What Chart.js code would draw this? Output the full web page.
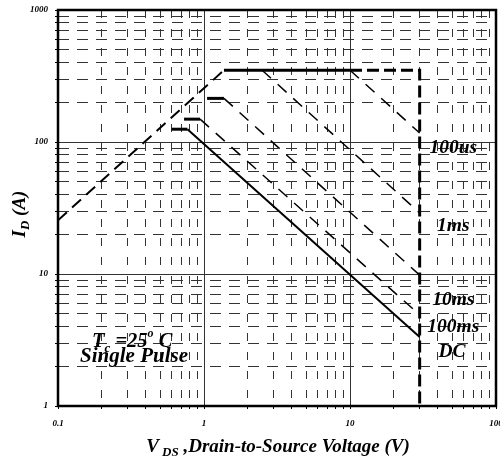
<!DOCTYPE html>
<html>
<head>
<meta charset="utf-8">
<script src="https://cdn.jsdelivr.net/npm/chart.js@4"></script>
<style>
  html, body { margin: 0; padding: 0; background: #fff; overflow: hidden; }
  #wrap { width: 500px; height: 463px; position: relative; }
</style>
</head>
<body>
<div id="wrap"><canvas id="myChart"></canvas></div>
<script>
// axis decades (tick labels)
const xDecades = [0.1, 1, 10, 100];
const yDecades = [1, 10, 100, 1000];
const mantissas = [1, 2, 3, 4, 5, 6, 7, 8, 9];

// SOA curves, VDS (V) / ID (A)
const vRds = [0.1, 1.37];
const iRds = [25.5, 350];
const v100us = [1.37, 10, 30];
const i100us = [350, 350, 117];
const v1ms = [2.5, 30];
const i1ms = [350, 29];
const v10ms = [1.05, 1.37, 30];
const i10ms = [214, 214, 9.8];
const v100ms = [0.73, 0.94, 30];
const i100ms = [149, 149, 4.9];
const vDC = [0.6, 0.77, 30];
const iDC = [125, 125, 3.33];
const vBV = [10, 30, 30];
const iBV = [350, 350, 0.98];

const curveLabels = ['100us', '1ms', '10ms', '100ms', 'DC'];
const labelV = [51, 51, 51, 51, 50];
const labelI = [90, 23, 6.35, 4.0, 2.56];

function pts(v, i) {
    return v.map((x, k) => ({ x: x, y: i[k] }));
}

function gridTicks(decades) {
    let result = [];
    decades.forEach((d, k) => {
        if (k === decades.length - 1) {
            result.push(d);
            return;
        }
        mantissas.forEach(m => result.push(+(d * m).toPrecision(6)));
    });
    return result;
}

function isDecade(v) {
    const l = Math.log10(v);
    return Math.abs(l - Math.round(l)) < 1e-6;
}

const FONT = '"Liberation Serif", "DejaVu Serif", serif';

// solid first segment (thick), rest dashed
function thickThenDashed(ctx) {
    return ctx.p0DataIndex === 0 ? [] : [12, 9];
}
function thickThenThin(ctx) {
    return ctx.p0DataIndex === 0 ? 3 : 1.5;
}

const data = {
    datasets: [
        {
            label: 'RDS(on) limit',
            data: pts(vRds, iRds),
            borderDash: [12, 7],
            borderWidth: 2,
        },
        {
            label: '100us',
            data: pts(v100us, i100us),
            segment: { borderDash: thickThenDashed, borderWidth: thickThenThin },
        },
        {
            label: '1ms',
            data: pts(v1ms, i1ms),
            borderDash: [12, 9],
            borderWidth: 1.5,
        },
        {
            label: '10ms',
            data: pts(v10ms, i10ms),
            segment: { borderDash: thickThenDashed, borderWidth: thickThenThin },
        },
        {
            label: '100ms',
            data: pts(v100ms, i100ms),
            segment: { borderDash: thickThenDashed, borderWidth: thickThenThin },
        },
        {
            label: 'DC',
            data: pts(vDC, iDC),
            segment: { borderWidth: ctx => ctx.p0DataIndex === 0 ? 3 : 2 },
        },
        {
            label: 'BVDSS',
            data: pts(vBV, iBV),
            borderDash: [12, 5],
            borderWidth: 3,
            clip: false,
        },
    ].map(ds => Object.assign({
        showLine: true,
        borderColor: '#000',
        backgroundColor: '#000',
        pointRadius: 0,
        tension: 0,
        borderWidth: 2,
    }, ds))
};

function drawRuns(ctx, runs, x, y, align) {
    let total = 0;
    runs.forEach(r => {
        ctx.font = 'italic bold ' + r.size + 'px ' + FONT;
        r.w = ctx.measureText(r.t).width;
        total += r.w;
    });
    let cx = align === 'center' ? x - total / 2 : x;
    ctx.textAlign = 'left';
    runs.forEach(r => {
        ctx.font = 'italic bold ' + r.size + 'px ' + FONT;
        ctx.fillText(r.t, cx, y + (r.dy || 0));
        cx += r.w;
    });
}

const decorations = {
    id: 'decorations',
    afterDraw(chart) {
        const { ctx, chartArea: a, scales: { x, y } } = chart;
        ctx.save();
        // plot frame
        ctx.strokeStyle = '#000';
        ctx.lineWidth = 2.5;
        ctx.strokeRect(a.left, a.top, a.right - a.left, a.bottom - a.top);

        ctx.fillStyle = '#000';
        ctx.textBaseline = 'middle';
        ctx.font = 'italic bold 19.5px ' + FONT;
        curveLabels.forEach((t, k) => {
            ctx.textAlign = 'center';
            ctx.fillText(t, x.getPixelForValue(labelV[k]), y.getPixelForValue(labelI[k]));
        });

        ctx.textBaseline = 'alphabetic';
        drawRuns(ctx, [
            { t: 'T', size: 20.5 },
            { t: 'c', size: 13, dy: 5 },
            { t: ' =25', size: 20.5 },
            { t: 'o', size: 12, dy: -10 },
            { t: ' C', size: 20.5 },
        ], x.getPixelForValue(0.171), y.getPixelForValue(2.8), 'left');
        drawRuns(ctx, [{ t: 'Single Pulse', size: 21 }],
            x.getPixelForValue(0.1416), y.getPixelForValue(2.15), 'left');

        // x axis title
        drawRuns(ctx, [
            { t: 'V', size: 19 },
            { t: ' DS', size: 13, dy: 4 },
            { t: ' ,Drain-to-Source Voltage (V)', size: 19 },
        ], 278, 452, 'center');

        // y axis title
        ctx.translate(19, 214);
        ctx.rotate(-Math.PI / 2);
        drawRuns(ctx, [
            { t: 'I', size: 19 },
            { t: 'D', size: 13, dy: 4 },
            { t: ' (A)', size: 19 },
        ], 0, 6, 'center');
        ctx.restore();
    }
};

function axis(min, max, decades, fitSize, horizontal) {
    return {
        type: 'logarithmic',
        min: min,
        max: max,
        afterBuildTicks: scale => {
            scale.ticks = gridTicks(decades).map(v => ({ value: v, major: isDecade(v) }));
        },
        afterFit: scale => {
            if (horizontal) {
                scale.height = fitSize;
                scale.paddingLeft = 0;
                scale.paddingRight = 0;
            } else {
                scale.width = fitSize;
                scale.paddingTop = 0;
                scale.paddingBottom = 0;
            }
        },
        grid: {
            color: '#333',
            lineWidth: 1,
            tickColor: '#000',
            tickLength: 3,
            tickBorderDash: [],
        },
        border: {
            display: false,
            dash: ctx => (ctx.tick && isDecade(ctx.tick.value)) ? [] : (horizontal ? [8, 11] : [11, 8]),
        },
        ticks: {
            autoSkip: false,
            maxRotation: 0,
            padding: horizontal ? 9 : 7,
            color: '#000',
            font: { family: FONT, size: 9, style: 'italic', weight: 'bold' },
            callback: v => isDecade(v) ? String(v) : '',
        },
    };
}

const config = {
    type: 'scatter',
    data: data,
    options: {
        responsive: true,
        maintainAspectRatio: false,
        animation: false,
        layout: { padding: { top: 10, right: 4, left: 0, bottom: 0 } },
        scales: {
            x: axis(0.1, 100, xDecades, 57, true),
            y: axis(1, 1000, yDecades, 58, false),
        },
        plugins: {
            legend: { display: false },
            tooltip: { enabled: false },
        }
    },
    plugins: [decorations]
};

new Chart(document.getElementById('myChart'), config);
</script>
</body>
</html>
